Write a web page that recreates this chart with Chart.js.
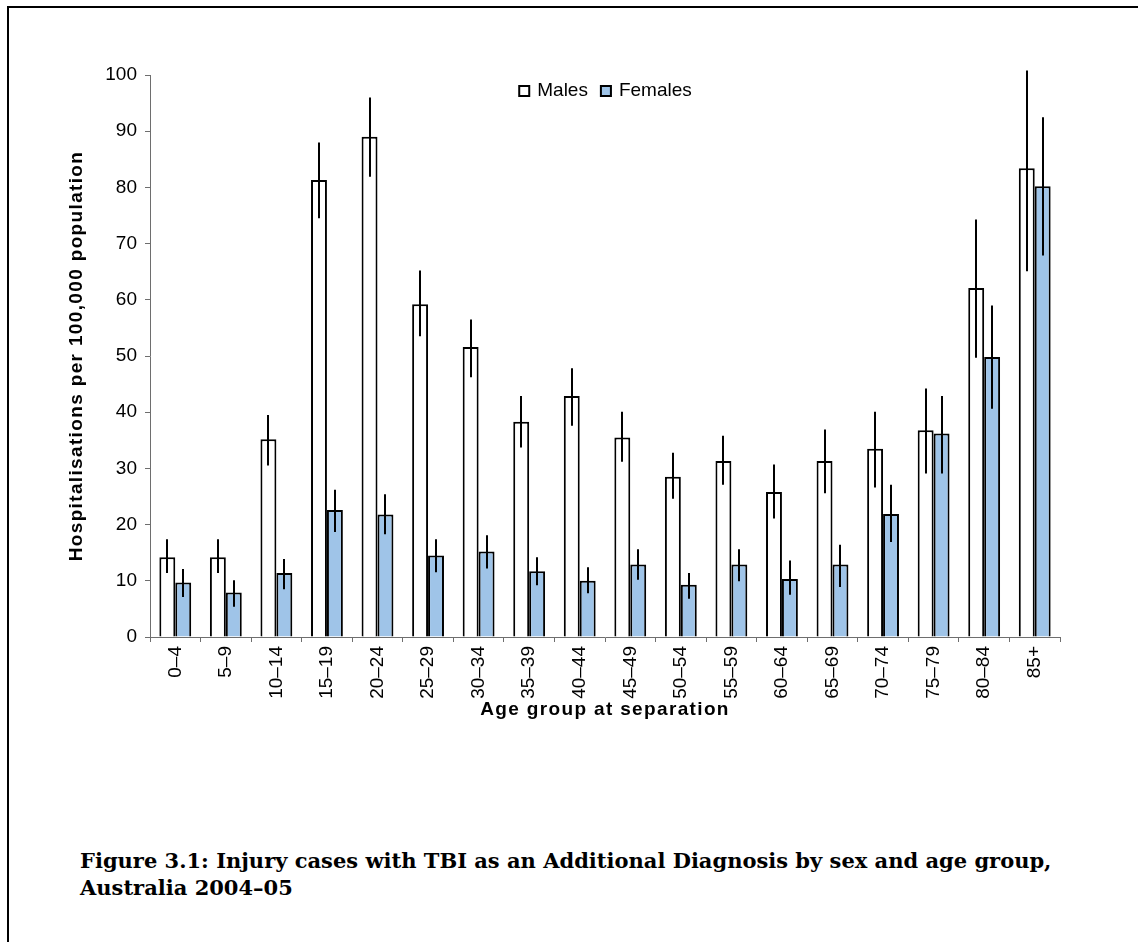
<!DOCTYPE html>
<html>
<head>
<meta charset="utf-8">
<script src="https://cdn.jsdelivr.net/npm/chart.js@4"></script>
<style>
  html, body { margin: 0; padding: 0; background: #fff; }
  body { width: 1138px; height: 942px; position: relative; overflow: hidden; }
  #frame { position: absolute; left: 7px; top: 6px; right: 0; bottom: 0;
           border-top: 2px solid #000; border-left: 2px solid #000; }
  #wrap { position: absolute; left: 0; top: 0; width: 1138px; height: 760px; }
  #caption { position: absolute; left: 80px; top: 847px; margin: 0;
             font-family: "DejaVu Serif", serif; font-weight: bold;
             font-size: 21px; line-height: 27px; color: #000; white-space: nowrap; }
</style>
</head>
<body>
<div id="frame"></div>
<div id="wrap"><canvas id="c"></canvas></div>
<p id="caption">Figure 3.1: Injury cases with TBI as an Additional Diagnosis by sex and age group,<br>Australia 2004–05</p>
<script>
// Age groups
const ageGroups = ['0–4','5–9','10–14','15–19','20–24','25–29','30–34','35–39','40–44',
                   '45–49','50–54','55–59','60–64','65–69','70–74','75–79','80–84','85+'];

// Hospitalisations per 100,000 population
const males   = [14.2, 14.2, 35.2, 81.3, 89.0, 59.2, 51.6, 38.3, 42.9,
                 35.5, 28.5, 31.3, 25.8, 31.3, 33.5, 36.8, 62.1, 83.4];
const females = [9.7, 7.9, 11.4, 22.6, 21.8, 14.5, 15.2, 11.7, 10.0,
                 12.9, 9.3, 12.9, 10.3, 12.9, 21.9, 36.2, 49.8, 80.2];

// 95% confidence intervals
const malesLow   = [11.4, 11.4, 30.5, 74.5, 81.9, 53.5, 46.2, 33.7, 37.6,
                    31.2, 24.6, 27.1, 21.1, 25.6, 26.6, 29.1, 49.7, 65.1];
const malesHigh  = [17.4, 17.4, 39.5, 88.0, 96.0, 65.2, 56.5, 42.9, 47.8,
                    40.1, 32.8, 35.8, 30.7, 36.9, 40.1, 44.2, 74.3, 100.8];
const femalesLow  = [7.1, 5.4, 8.5, 18.7, 18.3, 11.5, 12.2, 9.2, 7.8,
                     10.2, 6.8, 9.9, 7.5, 8.9, 16.9, 29.1, 40.6, 67.9];
const femalesHigh = [12.1, 10.1, 13.9, 26.2, 25.4, 17.4, 18.1, 14.2, 12.4,
                     15.6, 11.4, 15.6, 13.6, 16.4, 27.1, 42.9, 59.0, 92.5];

// Y-axis ticks
const yMin = 0, yMax = 100, yStep = 10;

const FONT_FAMILY = '"Liberation Sans", Arial, sans-serif';

// Vertical confidence-interval lines through the centre of each bar
const errorBars = {
  id: 'errorBars',
  afterDatasetsDraw(chart) {
    const ctx = chart.ctx;
    const y = chart.scales.y;
    const ranges = [[malesLow, malesHigh], [femalesLow, femalesHigh]];
    ctx.save();
    ctx.strokeStyle = '#000';
    ctx.lineWidth = 2;
    chart.data.datasets.forEach((ds, di) => {
      const meta = chart.getDatasetMeta(di);
      const [lo, hi] = ranges[di];
      meta.data.forEach((bar, i) => {
        const x = Math.round(bar.x);
        ctx.beginPath();
        ctx.moveTo(x, y.getPixelForValue(lo[i]));
        ctx.lineTo(x, y.getPixelForValue(hi[i]));
        ctx.stroke();
      });
    });
    ctx.restore();
  }
};

// Single-row legend centred inside the top of the plot area
const insideLegend = {
  id: 'insideLegend',
  afterDraw(chart) {
    const ctx = chart.ctx;
    const area = chart.chartArea;
    const box = 12, textGap = 7, itemGap = 12;
    ctx.save();
    ctx.font = '19px ' + FONT_FAMILY;
    ctx.textBaseline = 'middle';
    ctx.textAlign = 'left';
    const items = chart.data.datasets.map(ds => ({
      text: ds.label, fill: ds.backgroundColor, w: ctx.measureText(ds.label).width
    }));
    const total = items.reduce((s, it) => s + box + textGap + it.w, 0) + itemGap * (items.length - 1);
    let x = (area.left + area.right) / 2 - total / 2;
    const yc = area.top + 16;
    items.forEach(it => {
      ctx.fillStyle = it.fill;
      ctx.fillRect(x, yc - box / 2, box, box);
      ctx.strokeStyle = '#000';
      ctx.lineWidth = 2;
      ctx.strokeRect(x + 1, yc - box / 2 + 1, box - 2, box - 2);
      ctx.fillStyle = '#000';
      ctx.fillText(it.text, x + box + textGap, yc);
      x += box + textGap + it.w + itemGap;
    });
    ctx.restore();
  }
};

// Axis titles are set with a little extra tracking
const trackedTitles = {
  id: 'trackedTitles',
  beforeDraw(chart) {
    ['x', 'y'].forEach(id => {
      const s = chart.scales[id];
      if (s && !s._tracked) {
        const orig = s.drawTitle;
        s.drawTitle = function () {
          const c = this.ctx;
          const prev = c.letterSpacing;
          c.letterSpacing = '1.35px';
          orig.call(this);
          c.letterSpacing = prev || '0px';
        };
        s._tracked = true;
      }
    });
  }
};

const tickFont = { family: FONT_FAMILY, size: 19 };
const titleFont = { family: FONT_FAMILY, size: 19, weight: 'bold' };
const axisGrey = '#6e6e6e';

new Chart(document.getElementById('c'), {
  type: 'bar',
  data: {
    labels: ageGroups,
    datasets: [
      { label: 'Males', data: males, backgroundColor: '#ffffff', borderColor: '#000',
        borderWidth: 2, barPercentage: 1.0, categoryPercentage: 0.63 },
      { label: 'Females', data: females, backgroundColor: '#9fc4e8', borderColor: '#000',
        borderWidth: 2, barPercentage: 1.0, categoryPercentage: 0.63 }
    ]
  },
  options: {
    responsive: true,
    maintainAspectRatio: false,
    animation: false,
    devicePixelRatio: 1,
    layout: { padding: { left: 61, right: 78, top: 75, bottom: 35 } },
    plugins: {
      legend: { display: false },
      tooltip: { enabled: false },
      title: { display: false }
    },
    scales: {
      x: {
        grid: { drawOnChartArea: false, drawTicks: true, tickLength: 5, color: axisGrey, offset: true },
        border: { color: axisGrey, width: 1 },
        ticks: { font: tickFont, color: '#000', minRotation: 90, maxRotation: 90, autoSkip: false, padding: 4 },
        title: { display: true, text: 'Age group at separation', font: titleFont, color: '#000',
                 padding: { top: 4, bottom: 4 } },
        afterFit(s) { s.height = 88; }
      },
      y: {
        min: yMin, max: yMax,
        grid: { drawOnChartArea: false, drawTicks: true, tickLength: 5, color: axisGrey },
        border: { color: axisGrey, width: 1 },
        ticks: { stepSize: yStep, font: tickFont, color: '#000', padding: 8 },
        title: { display: true, text: 'Hospitalisations per 100,000 population', font: titleFont,
                 color: '#000', padding: { top: 4, bottom: 4 } },
        afterFit(s) { s.width = 89; }
      }
    }
  },
  plugins: [trackedTitles, errorBars, insideLegend]
});
</script>
</body>
</html>
